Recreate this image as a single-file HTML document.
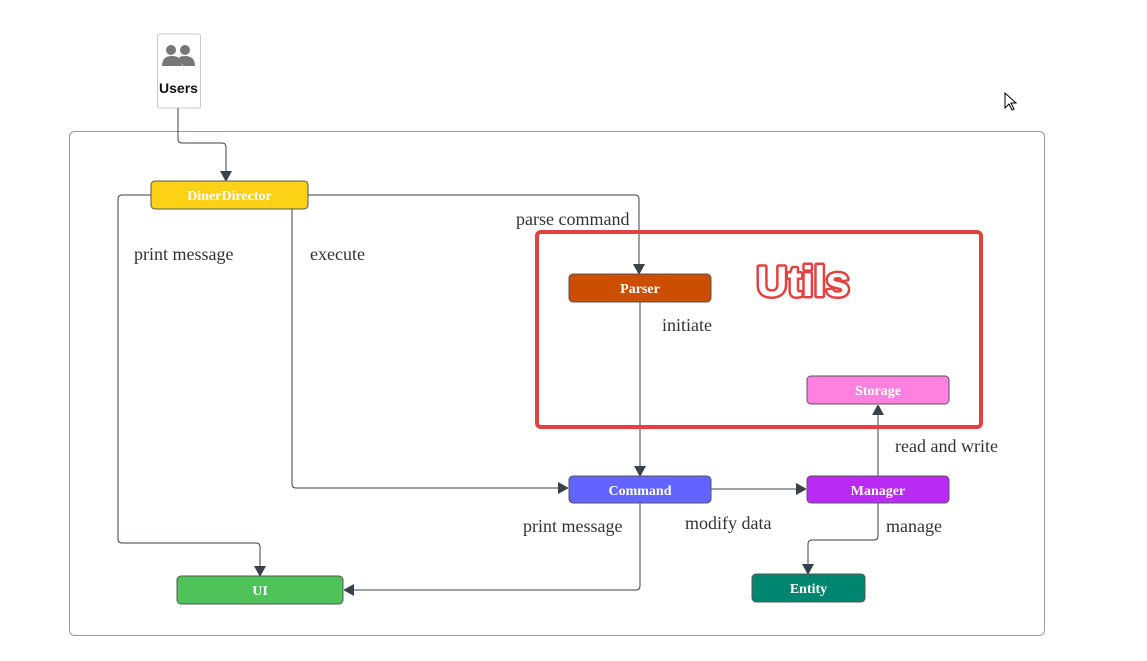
<!DOCTYPE html>
<html><head><meta charset="utf-8"><style>body{margin:0;background:#fff}svg{display:block}</style></head><body>
<svg width="1147" height="661" viewBox="0 0 1147 661" xmlns="http://www.w3.org/2000/svg">
<defs><marker id="a" markerWidth="10" markerHeight="12" refX="10" refY="6" orient="auto" markerUnits="userSpaceOnUse"><path d="M0,0 L11,6 L0,12 Z" fill="#3a414a"/></marker></defs>
<rect x="69.5" y="131.5" width="975" height="504" rx="5" fill="none" stroke="#9a9a9a" stroke-width="1"/>
<rect x="157.5" y="34" width="43" height="74" rx="2" fill="#fff" stroke="#c8c8c8"/>
<g fill="#777"><circle cx="171" cy="50" r="5"/><circle cx="185" cy="50" r="5"/><path d="M162,66 q0,-10 10,-10 q10,0 10,10 Z"/><path d="M179,57 q3,-1 6,-1 q10,0 10,10 h-12 Z"/></g>
<text x="178.5" y="93" text-anchor="middle" font-family="Liberation Sans, sans-serif" font-weight="bold" font-size="14" fill="#111">Users</text>
<g fill="none" stroke="#3a414a" stroke-width="1" marker-end="url(#a)">
<path d="M178,108 V139 q0,4 4,4 H222 q4,0 4,4 V181"/>
<path d="M151,195 H122 q-4,0 -4,4 V539 q0,4 4,4 H256 q4,0 4,4 V576"/>
<path d="M292,209 V484 q0,4 4,4 H568"/>
<path d="M308,195 H635 q4,0 4,4 V274"/>
<path d="M640,302 V476"/>
<path d="M711,489 H806"/>
<path d="M640,503 V586 q0,4 -4,4 H344"/>
<path d="M878,476 V405"/>
<path d="M878,503 V536 q0,4 -4,4 H812 q-4,0 -4,4 V574"/>
</g>
<rect x="537" y="232" width="444" height="195" rx="4" fill="none" stroke="#e3403f" stroke-width="4"/>
<text x="803" y="296" text-anchor="middle" font-family="Liberation Sans, sans-serif" font-weight="bold" font-size="43" fill="#fff" stroke="#e3403f" stroke-width="5" paint-order="stroke" stroke-linejoin="round">Utils</text>
<g stroke="#555" stroke-width="1">
<rect x="151" y="181" width="157" height="28" rx="4" fill="#fcd116"/>
<rect x="569" y="274" width="142" height="28" rx="4" fill="#cc4e00"/>
<rect x="807" y="376" width="142" height="28" rx="4" fill="#ff80df"/>
<rect x="569" y="476" width="142" height="27" rx="4" fill="#6363ff"/>
<rect x="807" y="476" width="142" height="27" rx="4" fill="#b92bf5"/>
<rect x="177" y="576" width="166" height="28" rx="4" fill="#4fc35a"/>
<rect x="752" y="574" width="113" height="28" rx="4" fill="#008670"/>
</g>
<g font-family="Liberation Serif, serif" font-weight="bold" font-size="14" fill="#fff" text-anchor="middle">
<text x="229.5" y="200">DinerDirector</text>
<text x="640" y="293">Parser</text>
<text x="878" y="395">Storage</text>
<text x="640" y="495">Command</text>
<text x="878" y="495">Manager</text>
<text x="260" y="595">UI</text>
<text x="808.5" y="593">Entity</text>
</g>
<g font-family="Liberation Serif, serif" font-size="18" fill="#333">
<text x="134" y="260">print message</text>
<text x="310" y="260">execute</text>
<text x="516" y="225">parse command</text>
<text x="662" y="331">initiate</text>
<text x="895" y="452">read and write</text>
<text x="523" y="532">print message</text>
<text x="685" y="529">modify data</text>
<text x="886" y="532">manage</text>
</g>
<path d="M1005,93 V108 l4,-4 l3,6 l2,-1 l-3,-6 h5 Z" fill="#fff" stroke="#000" stroke-width="1"/>
</svg>
</body></html>
